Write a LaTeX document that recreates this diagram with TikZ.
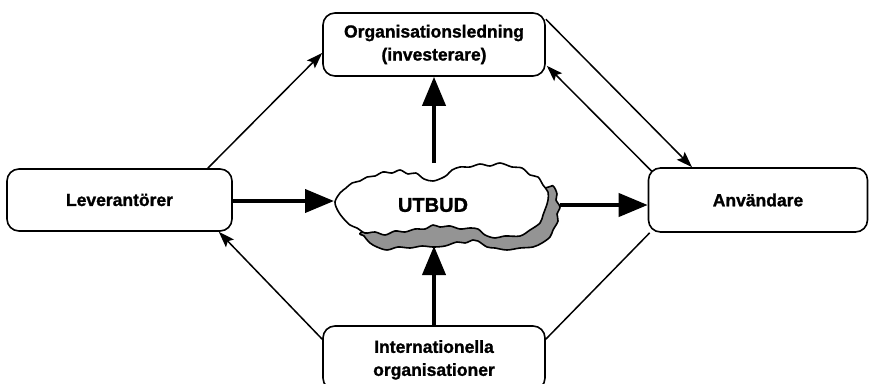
\documentclass[tikz,border=0pt]{standalone}
\usepackage{fontspec}
\setmainfont{Liberation Sans}[BoldFeatures={FakeBold=1.3}]
\usetikzlibrary{arrows.meta}
\begin{document}
\begin{tikzpicture}[x=1pt,y=-1pt,
  box/.style={draw,line width=1.6pt,rounded corners=12pt,font=\bfseries\fontsize{17.5}{23}\selectfont,align=center,inner sep=0pt},
  bigarrow/.style={line width=4pt,-{Triangle[length=29pt,width=23pt]}},
  thinline/.style={line width=1.5pt},
  thinarrow/.style={thinline,-{Stealth[length=16pt,width=11pt,inset=3pt]}},
  cloudline/.style={line width=1.6pt,line join=round}]
\useasboundingbox (0,0) rectangle (869,383);
% shadow
\path[cloudline,fill=black!42,draw=black] plot[smooth cycle,tension=0.55] coordinates {(545,188) (553,186) (557,194) (556,200) (560,207) (557,214) (558,221) (553,230) (550,237) (542,243) (533,247) (520,248) (507,250) (495,248) (487,247) (478,241) (473,240) (465,243) (457,242) (445,246) (433,247) (422,246) (410,248) (398,247) (387,250) (377,247) (370,243) (364,236) (362,232) (400,215) (480,205)};
% cloud
\path[cloudline,fill=white,draw=black] plot[smooth cycle,tension=0.55] coordinates {(335,202) (340,193) (346,188) (352,183) (360,181) (367,177) (375,176) (383,172) (392,173) (400,170) (408,174) (416,173) (424,179) (433,181) (442,178) (447,175) (452,170) (460,167) (470,167) (480,164) (490,166) (500,163) (512,167) (522,168) (530,175) (538,177) (543,185) (548,192) (548,200) (546,207) (543,215) (540,223) (530,230) (520,236) (505,236) (495,238) (485,235) (478,229) (470,228) (460,229) (450,226) (440,227) (433,225) (425,229) (415,229) (405,232) (395,231) (385,235) (375,232) (365,233) (357,228) (350,225) (343,218) (338,211)};
\node[font=\bfseries\fontsize{20}{24}\selectfont,inner sep=0pt] (utbud) at (433,205) {UTBUD};
\coordinate (cl) at (334,201);
\coordinate (cr) at (560,205);
\coordinate (ct) at (434,163);
\coordinate (cb) at (434,246);
% boxes
\node[box,minimum width=222pt,minimum height=63pt] (org) at (434,44.5) {Organisationsledning\\(investerare)};
\node[box,minimum width=225pt,minimum height=62pt] (lev) at (119.5,200) {Leverant\"orer};
\node[box,minimum width=219pt,minimum height=64pt] (anv) at (758,200) {Anv\"andare};
\node[box,minimum width=222pt,minimum height=64pt,text depth=0pt] (int) at (434,358) {Internationella\\organisationer};
% thick arrows
\draw[bigarrow] (lev.east |- cl) -- (cl);
\draw[bigarrow] (cr) -- (cr -| anv.west);
\draw[bigarrow] (ct) -- (ct |- org.south);
\draw[bigarrow] (int.north) -- (cb);
% thin connectors
\draw[thinarrow] ([xshift=-25pt]lev.north east) -- ([yshift=-8.5pt]org.west);
\draw[thinarrow] ([yshift=-7pt]org.north east) -- ([xshift=-66pt]anv.north);
\draw[thinarrow] ([xshift=4pt,yshift=-4pt]anv.north west) -- ([xshift=1pt,yshift=11pt]org.south east);
\draw[thinarrow] ([yshift=-14pt]int.north west) -- ([xshift=-14pt]lev.south east);
\draw[thinline] ([yshift=-14pt]int.north east) -- ([xshift=2pt]anv.south west);
\end{tikzpicture}
\end{document}
